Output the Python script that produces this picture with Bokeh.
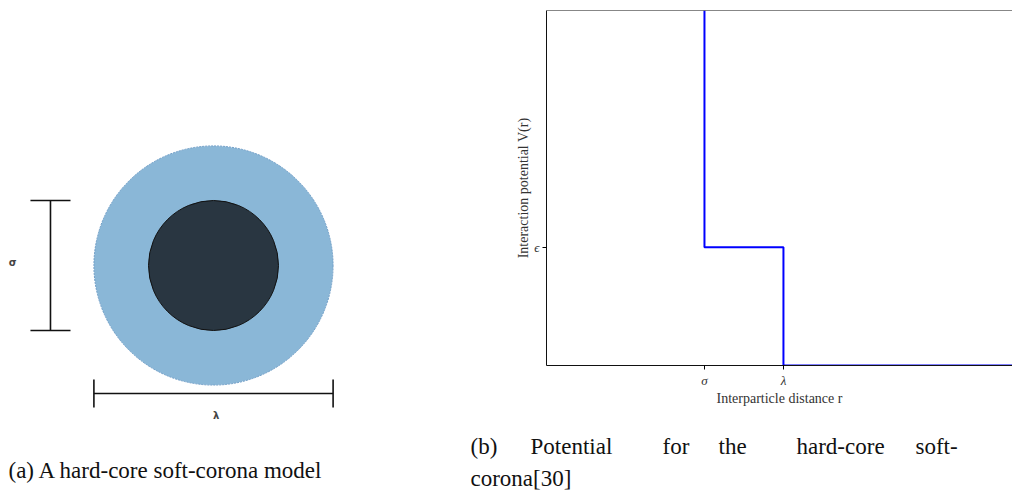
from bokeh.plotting import figure
from bokeh.models import Range1d, Label, Span, FixedTicker
from bokeh.core.properties import value
from bokeh.layouts import row, column
from bokeh.embed import file_html
from bokeh.resources import INLINE

# ---- values -------------------------------------------------------------
# schematic particle (units of the hard-core diameter)
core_diameter = 1.0      # sigma
corona_diameter = 1.84   # lambda

# square-shoulder potential: hard core at sigma, shoulder of height eps up to lambda
r_sigma = 1.0
r_lambda = 1.5
eps = 1.0
r_steps = [1.0, 1.0, 1.5, 1.5, 2.95]
V_steps = [3.0, 1.0, 1.0, 0.0, 0.0]
x_tick_labels = {1.0: "σ", 1.5: "λ"}
y_tick_labels = {1.0: "ϵ"}

SERIF = "Liberation Serif"
CAPTION_SIZE = "23px"

# ---- (a) particle sketch -------------------------------------------------
scale = 130.0  # pixels per diameter unit
left = figure(width=465, height=491, output_backend="svg", toolbar_location=None,
              x_axis_type=None, y_axis_type=None,
              x_range=Range1d(-213 / scale, (465 - 213) / scale),
              y_range=Range1d(-(491 - 265) / scale, 265 / scale),
              min_border=0, outline_line_color=None)
left.grid.visible = False

left.circle(x=[0], y=[0], radius=[corona_diameter / 2], fill_color="#8ab7d7",
            line_color="#6f9dc6", line_dash="2 1", line_width=1)
left.circle(x=[0], y=[0], radius=[core_diameter / 2], fill_color="#293641",
            line_color="#111111", line_width=1)

# sigma bracket
sx = -1.254
cap = 0.154
left.segment(x0=[sx, sx - cap, sx - cap], y0=[-core_diameter / 2, core_diameter / 2, -core_diameter / 2],
             x1=[sx, sx + cap, sx + cap], y1=[core_diameter / 2, core_diameter / 2, -core_diameter / 2],
             line_color="#111111", line_width=1.6)
# lambda bracket
ly = -0.985
tick = 0.108
left.segment(x0=[-corona_diameter / 2, -corona_diameter / 2, corona_diameter / 2],
             y0=[ly, ly - tick, ly - tick],
             x1=[corona_diameter / 2, -corona_diameter / 2, corona_diameter / 2],
             y1=[ly, ly + tick, ly + tick],
             line_color="#111111", line_width=1.6)

left.add_layout(Label(x=-1.546, y=0.02, text="σ", text_font="DejaVu Sans",
                      text_font_style="bold", text_font_size="10px",
                      text_align="center", text_baseline="middle"))
left.add_layout(Label(x=0.02, y=ly - 0.17, text="λ", text_font="DejaVu Sans",
                      text_font_style="bold", text_font_size="10px",
                      text_align="center", text_baseline="middle"))

left.add_layout(Label(x=8, y=491 - 470, x_units="screen", y_units="screen",
                      text="(a) A hard-core soft-corona model", text_font=SERIF,
                      text_font_size=CAPTION_SIZE, text_baseline="middle", text_color="#111111"))

# ---- (b) potential -----------------------------------------------------------
right = figure(width=547, height=421, output_backend="svg", toolbar_location=None,
               x_range=Range1d(0, 2.95), y_range=Range1d(0, 3.0),
               min_border_left=81, min_border_right=0, min_border_top=10,
               min_border_bottom=56, outline_line_color=None)
right.grid.visible = False
right.line(r_steps, V_steps, line_color="#0000ff", line_width=2)

right.xaxis.ticker = FixedTicker(ticks=[r_sigma, r_lambda])
right.xaxis.major_label_overrides = x_tick_labels
right.yaxis.ticker = FixedTicker(ticks=[eps])
right.yaxis.major_label_overrides = y_tick_labels
for ax in (right.xaxis, right.yaxis):
    ax.minor_tick_line_color = None
    ax.major_tick_in = 0
    ax.major_tick_out = 4
    ax.major_label_text_font = SERIF
    ax.major_label_text_font_style = "italic"
    ax.major_label_text_font_size = "13px"
    ax.axis_label_text_font = SERIF
    ax.axis_label_text_font_style = "normal"
    ax.axis_label_text_font_size = "14px"
    ax.axis_label_text_color = "#333333"
    ax.major_label_text_color = "#333333"
    ax.axis_line_color = "#111111"
    ax.axis_label_standoff = 0
    ax.major_label_standoff = 3
right.xaxis.axis_label = "Interparticle distance r"
right.yaxis.axis_label = "Interaction potential V(r)"
right.add_layout(Span(location=3.0, dimension="width", line_color="#111111", line_width=1))

# ---- caption (b), justified word by word (y measured from the top) ----------
cap_words = ["(b)", "Potential", "for", "the", "hard-core", "soft-", "corona[30]"]
cap_x = [5, 65, 197, 253, 331, 450, 5]
cap_y = [25, 25, 25, 25, 25, 25, 57]
caption = figure(width=547, height=70, output_backend="svg", toolbar_location=None,
                 x_axis_type=None, y_axis_type=None,
                 x_range=Range1d(0, 547), y_range=Range1d(70, 0),
                 min_border=0, outline_line_color=None)
caption.grid.visible = False
caption.text(x=cap_x, y=cap_y, text=cap_words, text_font=value(SERIF),
             text_font_size=CAPTION_SIZE, text_baseline="middle", text_color="#111111")

layout = row(column(left), column(column(right), column(caption)))
open("out.html", "w").write(file_html(layout, INLINE))
